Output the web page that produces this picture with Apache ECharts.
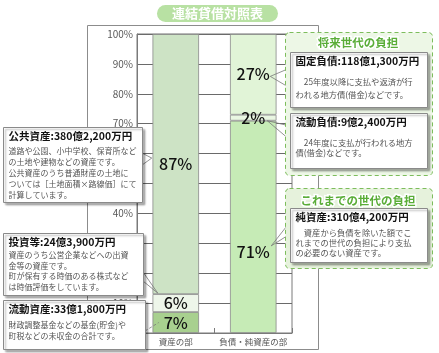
<!DOCTYPE html>
<html>
<head>
<meta charset="utf-8">
<script src="https://cdn.jsdelivr.net/npm/echarts@6/dist/echarts.min.js"></script>
<style>
  html, body { margin: 0; padding: 0; background: #fff; }
  #chart { width: 439px; height: 353px; }
</style>
</head>
<body>
<div id="chart"></div>
<script>
const categories = ["資産の部", "負債・純資産の部"];
// 下段 / 中段 / 上段 (%)
const lowerShares = [7, 71];   // 流動資産 / 純資産
const middleShares = [6, 2];   // 投資等 / 流動負債
const upperShares = [87, 27];  // 公共資産 / 固定負債

const titleText = "連結貸借対照表";
const futureTitle = "将来世代の負担";
const pastTitle = "これまでの世代の負担";

const notePublic = ["公共資産:380億2,200万円",
  "道路や公園、小中学校、保育所など\nの土地や建物などの資産です。\n公共資産のうち普通財産の土地に\nついては［土地面積×路線価］にて\n計算しています。"];
const noteInvest = ["投資等:24億3,900万円",
  "資産のうち公営企業などへの出資\n金等の資産です。\n町が保有する時価のある株式など\nは時価評価をしています。"];
const noteCurrent = ["流動資産:33億1,800万円",
  "財政調整基金などの基金(貯金)や\n町税などの未収金の合計です。"];
const noteFixedDebt = ["固定負債:118億1,300万円",
  "　25年度以降に支払や返済が行\nわれる地方債(借金)などです。"];
const noteCurrentDebt = ["流動負債:9億2,400万円",
  "　24年度に支払が行われる地方\n債(借金)などです。"];
const noteNet = ["純資産:310億4,200万円",
  "　資産から負債を除いた額でこ\nれまでの世代の負担により支払\nの必要のない資産です。"];

const FONT = '"Noto Sans CJK JP", "Noto Sans", sans-serif';

const chart = echarts.init(document.getElementById("chart"));

function seg(values, colors, extraLabel) {
  return {
    type: "bar",
    stack: "total",
    barWidth: "60%",
    data: values.map((v, i) => ({
      value: v,
      itemStyle: { color: colors[i] },
      label: extraLabel && extraLabel[i] ? extraLabel[i] : undefined,
    })),
    itemStyle: { borderColor: "#8a8a8a", borderWidth: 0.8 },
    label: {
      show: true,
      position: "inside",
      formatter: "{c}%",
      color: "#111",
      fontSize: 16,
      fontWeight: 500,
      fontFamily: FONT,
    },
    silent: true,
  };
}

chart.setOption({
  animation: false,
  grid: { left: 137, right: 147, top: 34, bottom: 20, show: true, borderColor: "#7a7a7a", borderWidth: 1 },
  xAxis: {
    type: "category",
    data: categories,
    axisLine: { lineStyle: { color: "#7a7a7a" } },
    axisTick: { show: true, inside: true, length: 5, lineStyle: { color: "#7a7a7a" } },
    axisLabel: { interval: 0, color: "#555", fontSize: 8.5, margin: 5, fontFamily: FONT },
  },
  yAxis: {
    type: "value",
    min: 0,
    max: 100,
    interval: 10,
    axisLine: { show: true, lineStyle: { color: "#7a7a7a" } },
    axisLabel: { formatter: "{value}%", color: "#595959", fontSize: 10, margin: 4, fontFamily: FONT },
    splitLine: { lineStyle: { color: "#6a6a6a", width: 1 } },
  },
  series: [
    seg(lowerShares, ["#a8d08f", "#c6ebb6"], [null, { offset: [0, 25] }]),
    seg(middleShares, ["#eef6ea", "#e9f6e2"]),
    seg(upperShares, ["#cde3c5", "#e1f4d7"]),
  ],
});

// 吹き出しの引出線は、各区分の中心位置から求める
function center(ci, i) {
  let base = 0;
  const stacks = [lowerShares, middleShares, upperShares];
  for (let k = 0; k < i; k++) base += stacks[k][ci];
  return chart.convertToPixel({ gridIndex: 0 }, [ci, base + stacks[i][ci] / 2]);
}

function noteBox(x, y, w, h, note, lh, bodyTop, fs) {
  return [
    { type: "rect", z: 50, shape: { x: x, y: y, width: w, height: h },
      style: { fill: "#fff", stroke: "#8a8a8a", lineWidth: 1, shadowBlur: 2, shadowOffsetX: 2, shadowOffsetY: 2, shadowColor: "rgba(0,0,0,0.3)" } },
    { type: "text", z: 51, style: { x: x + 5, y: y + 9, text: note[0], fill: "#111", fontSize: 10.5, fontWeight: "bold", fontFamily: FONT, verticalAlign: "middle" } },
    { type: "text", z: 51, style: { x: x + 5, y: bodyTop, text: note[1], fill: "#555", fontSize: fs || 8.3, lineHeight: lh, fontFamily: FONT, verticalAlign: "top" } },
  ];
}

function leader(points, dashed) {
  return { type: "polyline", z: 45, shape: { points: points },
    style: { fill: null, stroke: "#777", lineWidth: 0.8, lineDash: dashed ? [3, 2] : null } };
}

const c87 = center(0, 2), c6 = center(0, 1), c7 = center(0, 0);
const c27 = center(1, 2), c2 = center(1, 1), c71 = center(1, 0);
c71[1] += 25;

let els = [
  { type: "rect", z: -1, shape: { x: 87.5, y: 25.5, width: 231, height: 324 }, style: { fill: null, stroke: "#8c8c8c", lineWidth: 1 } },
  { type: "rect", z: 60, shape: { x: 157, y: 5, width: 121, height: 17, r: 8.5 }, style: { fill: "#b8e1a3" } },
  { type: "text", z: 61, style: { x: 217.5, y: 13.5, text: titleText, fill: "#fff", fontSize: 13, fontWeight: "bold", fontFamily: FONT, align: "center", verticalAlign: "middle" } },

  leader([[142, c87[1] - 11], [c87[0] - 24, c87[1] - 6], [142, c87[1] + 1]]),
  leader([[143, 272], [c6[0] - 18, c6[1] - 10], [143, 281]]),
  leader([[145, 331], [c7[0] - 17, c7[1]]], true),
  leader([[290, 68], [c27[0] + 17, c27[1] + 2], [290, 88]]),
  leader([[290, 126], [c2[0] + 14, c2[1] + 3], [290, 140]]),
  leader([[290, 222], [c71[0] + 18, c71[1] - 6], [290, 234]]),

  // 将来世代の負担
  { type: "rect", z: 48, shape: { x: 285.5, y: 32.5, width: 147, height: 143, r: 4 }, style: { fill: "#edf7e6", stroke: "#7dbd5c", lineWidth: 1, lineDash: [4, 3] } },
  { type: "text", z: 52, style: { x: 358, y: 43, text: futureTitle, fill: "#5aad38", stroke: "#fff", lineWidth: 3, fontSize: 11.5, fontWeight: "bold", fontFamily: FONT, align: "center", verticalAlign: "middle" } },
  // これまでの世代の負担
  { type: "rect", z: 48, shape: { x: 285.5, y: 188.5, width: 147, height: 80, r: 4 }, style: { fill: "#e6f2dc", stroke: "#7dbd5c", lineWidth: 1, lineDash: [4, 3] } },
  { type: "text", z: 52, style: { x: 358, y: 201, text: pastTitle, fill: "#5aad38", stroke: "#fff", lineWidth: 3, fontSize: 11.5, fontWeight: "bold", fontFamily: FONT, align: "center", verticalAlign: "middle" } },
];

els = els
  .concat(noteBox(3.5, 127.5, 139, 75, notePublic, 10.8, 146, 8))
  .concat(noteBox(3.5, 233.5, 140, 62, noteInvest, 10.5, 250, 8))
  .concat(noteBox(3.5, 300.5, 142, 49, noteCurrent, 10.8, 319.5, 8))
  .concat(noteBox(290.5, 52.5, 137, 55, noteFixedDebt, 13, 75.5))
  .concat(noteBox(290.5, 113.5, 137, 55, noteCurrentDebt, 10.5, 137.5))
  .concat(noteBox(290.5, 208.5, 137, 54, noteNet, 10.2, 227.5));

chart.setOption({ graphic: els });
</script>
</body>
</html>
